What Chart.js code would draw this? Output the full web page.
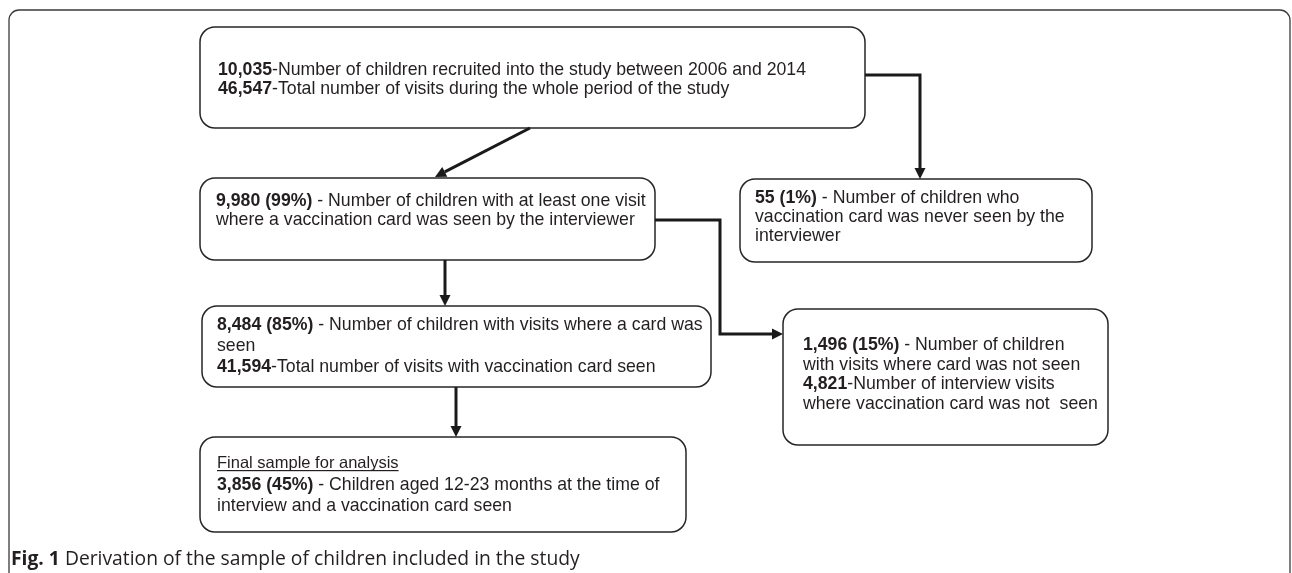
<!DOCTYPE html>
<html>
<head>
<meta charset="utf-8">
<script src="https://cdn.jsdelivr.net/npm/chart.js@4.4.1/dist/chart.umd.min.js"></script>
<style>
  html, body { margin: 0; padding: 0; background: #ffffff; }
  #flow { display: block; }
</style>
</head>
<body>
<canvas id="flow" width="1292" height="573"></canvas>
<script>
'use strict';

// box contents: each line is [bold count, plain text]
var RECRUITED = [
  ['10,035', '-Number of children recruited into the study between 2006 and 2014'],
  ['46,547', '-Total number of visits during the whole period of the study'],
];
var CARD_SEEN_ONCE = [
  ['9,980 (99%)', ' - Number of children with at least one visit'],
  ['', 'where a vaccination card was seen by the interviewer'],
];
var NEVER_SEEN = [
  ['55 (1%)', ' - Number of children who'],
  ['', 'vaccination card was never seen by the'],
  ['', 'interviewer'],
];
var WITH_CARD = [
  ['8,484 (85%)', ' - Number of children with visits where a card was'],
  ['', 'seen'],
  ['41,594', '-Total number of visits with vaccination card seen'],
];
var WITHOUT_CARD = [
  ['1,496 (15%)', ' - Number of children'],
  ['', 'with visits where card was not seen'],
  ['4,821', '-Number of interview visits'],
  ['', 'where vaccination card was not  seen'],
];
var FINAL_SAMPLE = [
  ['', 'Final sample for analysis'],
  ['3,856 (45%)', ' - Children aged 12-23 months at the time of'],
  ['', 'interview and a vaccination card seen'],
];
var CAPTION = ['Fig. 1', ' Derivation of the sample of children included in the study'];

// layout, in the chart's own units (x: 0..1292, y: 0..573 top-down)
var BOXES = [
  { lines: RECRUITED,      x0: 200, x1: 865,  y0: 27,  y1: 128, tx: 218, base: [75, 94] },
  { lines: CARD_SEEN_ONCE, x0: 200, x1: 655,  y0: 178, y1: 260, tx: 216, base: [206, 225] },
  { lines: NEVER_SEEN,     x0: 740, x1: 1092, y0: 179, y1: 262, tx: 755, base: [203, 222, 241] },
  { lines: WITH_CARD,      x0: 202, x1: 711,  y0: 306, y1: 387, tx: 217, base: [330, 351, 372] },
  { lines: WITHOUT_CARD,   x0: 783, x1: 1108, y0: 309, y1: 445, tx: 803, base: [350, 369.5, 389, 408.5] },
  { lines: FINAL_SAMPLE,   x0: 200, x1: 686,  y0: 437, y1: 532, tx: 217, base: [468, 490, 511], underlineFirst: true },
];

var ARROWS = [
  [[865, 75], [920, 75], [920, 179]],
  [[530, 128], [435, 177]],
  [[445, 260], [445, 306]],
  [[655, 220], [720, 220], [720, 334], [783, 334]],
  [[456, 387], [456, 437]],
];

var FONT_FAMILY = '"Liberation Sans", Arial, sans-serif';
var CAPTION_FONT = '"Open Sans", "Noto Sans", sans-serif';
var TEXT_COLOR  = '#231f20';

function roundRect(ctx, x0, y0, x1, y1, r) {
  ctx.beginPath();
  ctx.moveTo(x0 + r, y0);
  ctx.arcTo(x1, y0, x1, y1, r);
  ctx.arcTo(x1, y1, x0, y1, r);
  ctx.arcTo(x0, y1, x0, y0, r);
  ctx.arcTo(x0, y0, x1, y0, r);
  ctx.closePath();
}

var flowPlugin = {
  id: 'flow',
  afterDraw: function(chart) {
    var ctx = chart.ctx;
    var sx  = chart.scales.x;
    var sy  = chart.scales.y;
    var X = function(v) { return sx.getPixelForValue(v); };
    var Y = function(v) { return sy.getPixelForValue(v); };

    ctx.save();

    // outer figure frame, open at the bottom
    ctx.strokeStyle = '#3a3a3a';
    ctx.lineWidth   = 1.3;
    ctx.beginPath();
    ctx.moveTo(X(9), Y(600));
    ctx.lineTo(X(9), Y(20));
    ctx.arcTo(X(9), Y(10), X(19), Y(10), 10);
    ctx.lineTo(X(1280), Y(10));
    ctx.arcTo(X(1290), Y(10), X(1290), Y(20), 10);
    ctx.lineTo(X(1290), Y(600));
    ctx.stroke();

    // boxes + text
    BOXES.forEach(function(b) {
      ctx.strokeStyle = '#262626';
      ctx.lineWidth   = 1.5;
      roundRect(ctx, X(b.x0), Y(b.y0), X(b.x1), Y(b.y1), 15);
      ctx.stroke();

      ctx.fillStyle    = TEXT_COLOR;
      ctx.textBaseline = 'alphabetic';
      ctx.textAlign    = 'left';
      b.lines.forEach(function(line, i) {
        var x    = X(b.tx);
        var y    = Y(b.base[i]);
        var size = (b.underlineFirst && i === 0) ? 16.5 : 17.7;
        if (line[0]) {
          ctx.font = 'bold ' + size + 'px ' + FONT_FAMILY;
          ctx.fillText(line[0], x, y);
          x += ctx.measureText(line[0]).width;
        }
        ctx.font = size + 'px ' + FONT_FAMILY;
        ctx.fillText(line[1], x, y);
        if (b.underlineFirst && i === 0) {
          var w = ctx.measureText(line[1]).width;
          ctx.fillRect(x, y + 2, w, 1.2);
        }
      });
    });

    // arrows
    ctx.strokeStyle = '#1a1a1a';
    ctx.fillStyle   = '#1a1a1a';
    ctx.lineWidth   = 3;
    ctx.lineJoin    = 'miter';
    ARROWS.forEach(function(pts) {
      var n  = pts.length;
      var ex = X(pts[n - 1][0]), ey = Y(pts[n - 1][1]);
      var px = X(pts[n - 2][0]), py = Y(pts[n - 2][1]);
      var ang = Math.atan2(ey - py, ex - px);
      var len = 11, half = 5.5;
      var bx = ex - len * Math.cos(ang), by = ey - len * Math.sin(ang);

      ctx.beginPath();
      ctx.moveTo(X(pts[0][0]), Y(pts[0][1]));
      for (var i = 1; i < n - 1; i++) ctx.lineTo(X(pts[i][0]), Y(pts[i][1]));
      ctx.lineTo(bx, by);
      ctx.stroke();

      ctx.beginPath();
      ctx.moveTo(ex, ey);
      ctx.lineTo(bx + half * Math.sin(ang), by - half * Math.cos(ang));
      ctx.lineTo(bx - half * Math.sin(ang), by + half * Math.cos(ang));
      ctx.closePath();
      ctx.fill();
    });

    // caption
    var cx = X(11), cy = Y(565);
    ctx.fillStyle = '#231f20';
    ctx.font = 'bold 19.3px ' + CAPTION_FONT;
    ctx.fillText(CAPTION[0], cx, cy);
    cx += ctx.measureText(CAPTION[0]).width;
    ctx.font = '19.3px ' + CAPTION_FONT;
    ctx.fillText(CAPTION[1], cx, cy);

    ctx.restore();
  },
};

new Chart(document.getElementById('flow').getContext('2d'), {
  type: 'scatter',
  data: { datasets: [] },
  options: {
    responsive: false,
    devicePixelRatio: 1,
    animation: false,
    layout: { padding: 0 },
    plugins: { legend: { display: false }, tooltip: { enabled: false } },
    scales: {
      x: { type: 'linear', min: 0, max: 1292, display: false },
      y: { type: 'linear', min: 0, max: 573, reverse: true, display: false },
    },
  },
  plugins: [flowPlugin],
});
</script>
</body>
</html>
